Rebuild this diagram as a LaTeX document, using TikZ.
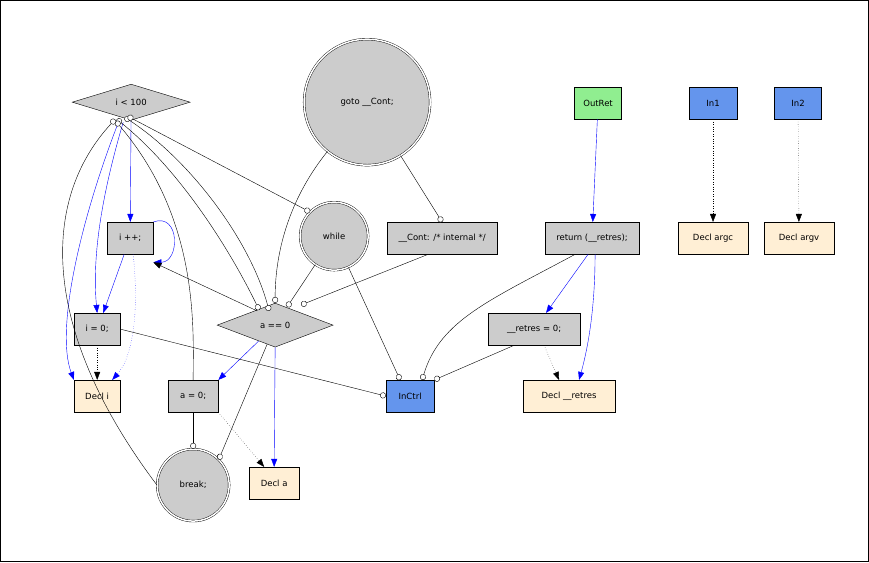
\documentclass[tikz,border=0pt]{standalone}
\usepackage{fontspec}
\setmainfont{DejaVu Sans}
\usetikzlibrary{shapes.geometric,arrows.meta}
\definecolor{gr}{HTML}{CCCCCC}
\definecolor{cream}{HTML}{FFEFD5}
\definecolor{cb}{HTML}{6495ED}
\definecolor{lg}{HTML}{90EE90}
\begin{document}
\begin{tikzpicture}[x=1pt,y=-1pt,font=\fontsize{8.5}{10}\selectfont,
 box/.style={draw,fill=gr,rectangle,minimum height=32,inner sep=3pt},
 decl/.style={box,fill=cream},
 dia/.style={draw,fill=gr,diamond,aspect=3.3,inner sep=1pt},
 dc/.style={draw,fill=gr,circle,double,double distance=1.5pt},
 ctl/.style={blue,-{Triangle[length=8pt,width=6pt]}},
 dat/.style={dotted,-{Triangle[length=8pt,width=6pt]}},
 o/.style={{Circle[open,fill=white,length=6pt]}-},
 oo/.style={{Circle[open,fill=white,length=6pt]}-{Circle[open,fill=white,length=6pt]}},
 to/.style={-{Circle[open,fill=white,length=6pt]}}]
\draw (0,0) rectangle (868,561);
\useasboundingbox (0,0) rectangle (869,562);
\node[dia,minimum width=118,minimum height=36] (lt) at (131,102) {i < 100};
\node[box,minimum width=46] (ipp) at (130,238) {i ++;};
\node[box,minimum width=46] (i0) at (97,329) {i = 0;};
\node[decl,minimum width=46] (di) at (97,396) {Decl i};
\node[box,minimum width=50] (a0) at (193,396) {a = 0;};
\node[dia,minimum width=116,minimum height=44] (aeq) at (275,325) {a == 0};
\node[dc,minimum size=72] (brk) at (193,485) {break;};
\node[decl,minimum width=50] (da) at (274,483) {Decl a};
\node[dc,minimum size=126] (gt) at (367,102) {goto \_\_Cont;};
\node[dc,minimum size=68] (wh) at (334,236) {while};
\node[box,minimum width=110] (ct) at (442,238) {\_\_Cont: /* internal */};
\node[box,fill=cb,minimum width=48] (inc) at (410,396) {InCtrl};
\node[box,minimum width=94] (ret) at (592,238) {return (\_\_retres);};
\node[box,minimum width=92] (r0) at (534,329) {\_\_retres = 0;};
\node[decl,minimum width=92] (dr) at (569,396) {Decl \_\_retres};
\node[box,fill=lg,minimum width=47] (out) at (598,103) {OutRet};
\node[box,fill=cb,minimum width=48] (in1) at (713,103) {In1};
\node[box,fill=cb,minimum width=47] (in2) at (798,103) {In2};
\node[decl,minimum width=70] (dac) at (713,238) {Decl argc};
\node[decl,minimum width=70] (dav) at (799,238) {Decl argv};
% left cluster
\draw[ctl] (lt) -- (ipp);
\draw[ctl] (lt.south) ++(-8,2) .. controls (100,200) and (92,260) .. (i0.north);
\draw[ctl] (lt.south) ++(-12,0) .. controls (80,220) and (55,330) .. (di.north west);
\draw[ctl] (ipp.south) ++(-6,0) -- ([xshift=6]i0.north);
\draw[ctl,dotted] (ipp.south) ++(3,0) .. controls (140,320) and (130,360) .. ([xshift=15]di.north);
\draw[ctl] (ipp.north east) .. controls (180,212) and (180,262) .. ([yshift=-8]ipp.south east);
\draw[dat] (i0) -- (di);
\draw[o,-{Triangle[length=8pt,width=6pt]}] ([xshift=-18,yshift=-8]aeq.north) -- ([yshift=-8]ipp.south east);
\draw[oo] (lt.south east) ++(-44,8) .. controls (180,170) and (230,250) .. ([xshift=-16,yshift=-7]aeq.north);
\draw[oo] (lt.south east) ++(-36,6) .. controls (190,160) and (250,240) .. ([xshift=-6,yshift=-8]aeq.north);
\draw[o] (lt.south east) ++(-45,10) .. controls (200,220) and (193,330) .. (a0.north);
\draw[oo] (lt.south east) ++(-33,5) -- (wh.north west);
\draw[o] (lt.south) ++(-16,-1) .. controls (40,200) and (40,330) .. (brk.west) ;
% middle
\draw[to] (gt) .. controls (280,210) and (275,270) .. (aeq.north);
\draw[to] (gt) -- (ct.north);
\draw[to] (wh) -- ([xshift=12,yshift=-4]aeq.north);
\draw[to] (wh) -- ([xshift=-10]inc.north);
\draw[to] ([xshift=-14]ct.south) -- ([xshift=26,yshift=-2]aeq.north);
\draw[ctl] (aeq) -- (a0.north east);
\draw[ctl] (aeq.south) -- (da.north);
\draw[to] (aeq) -- (brk.north east);
\draw[to] (a0) -- (brk);
\draw[dat] (a0.south east) -- ([xshift=-10]da.north);
\draw[to] (i0.east) -- (inc.west);
% right
\draw[to] ([xshift=-17]ret.south) .. controls (490,300) and (440,320) .. ([xshift=12]inc.north);
\draw[ctl] ([xshift=-4]ret.south) -- ([xshift=12]r0.north);
\draw[ctl] ([xshift=3]ret.south) .. controls (595,300) and (590,340) .. ([xshift=10]dr.north);
\draw[to] ([xshift=-20]r0.south) -- (inc.north east);
\draw[dat] ([xshift=10]r0.south) -- ([xshift=-10]dr.north);
\draw[ctl] (out) -- (ret);
\draw[dat] (in1) -- (dac);
\draw[dat] (in2) -- (dav);
\end{tikzpicture}
\end{document}
